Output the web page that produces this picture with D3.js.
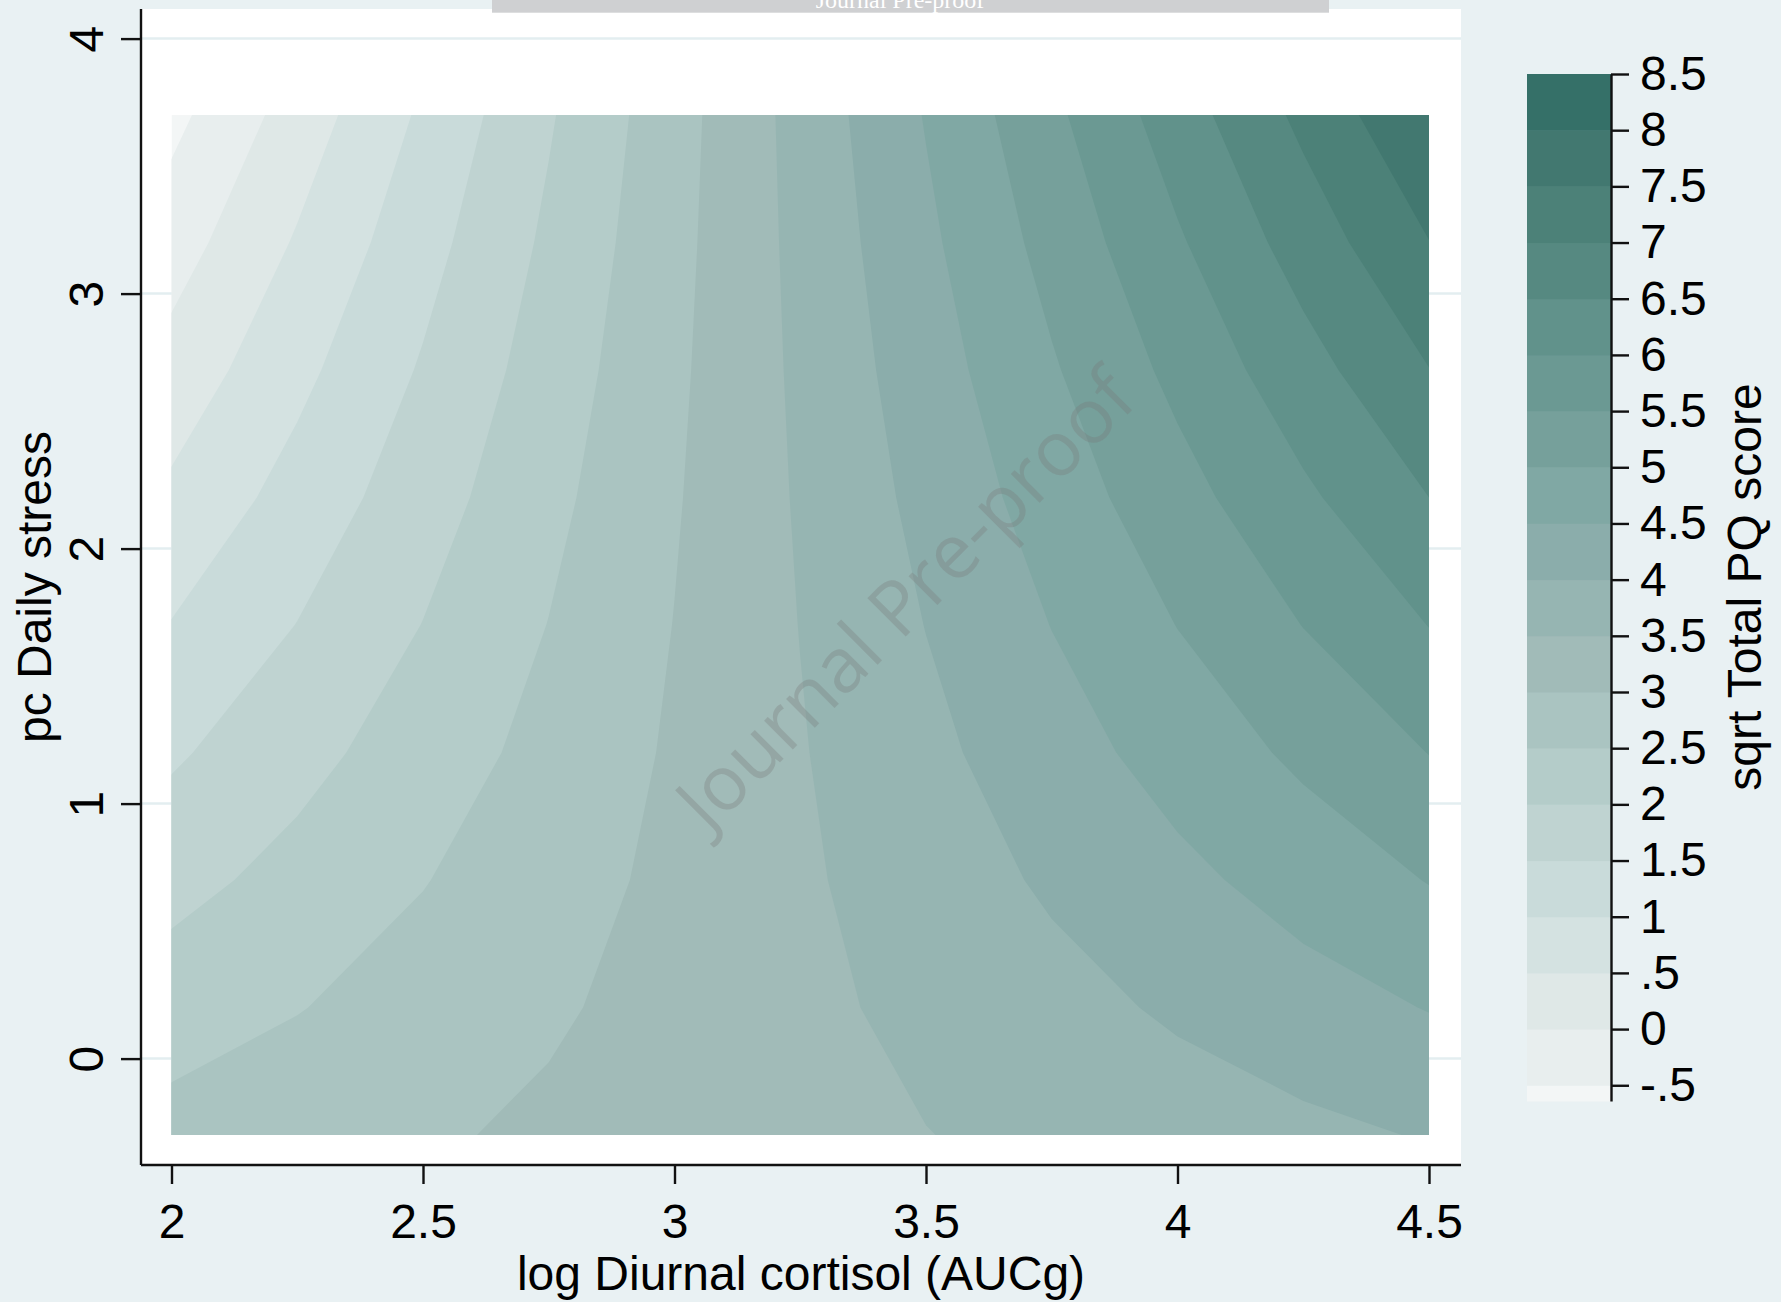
<!DOCTYPE html>
<html>
<head>
<meta charset="utf-8">
<script src="https://cdn.jsdelivr.net/npm/d3@7"></script>
<style>
  body { margin: 0; background: #e9f1f3; }
  svg { display: block; }
  text { font-family: "Liberation Sans", Arial, sans-serif; }
</style>
</head>
<body>
<div id="chart"></div>
<script>
// grid columns: log Diurnal cortisol, grid rows: pc Daily stress
const cortisol = [2, 2.25, 2.5, 2.75, 3, 3.25, 3.5, 3.75, 4, 4.25, 4.5];
const stress = [-0.3, 0.2, 0.7, 1.2, 1.7, 2.2, 2.7, 3.2, 3.7];

// sqrt Total PQ score, one row per stress value (bottom row first)
const pqScore = [
  [2.67, 2.81, 2.94, 3.08, 3.21, 3.35, 3.49, 3.62, 3.76, 3.89, 4.03],
  [2.26, 2.48, 2.71, 2.94, 3.16, 3.39, 3.62, 3.84, 4.07, 4.30, 4.52],
  [1.84, 2.16, 2.48, 2.80, 3.11, 3.43, 3.75, 4.07, 4.38, 4.70, 5.02],
  [1.43, 1.84, 2.25, 2.65, 3.06, 3.47, 3.88, 4.29, 4.70, 5.10, 5.51],
  [1.02, 1.51, 2.01, 2.51, 3.01, 3.51, 4.01, 4.51, 5.01, 5.51, 6.01],
  [0.60, 1.19, 1.78, 2.37, 2.96, 3.55, 4.14, 4.73, 5.32, 5.91, 6.50],
  [0.19, 0.87, 1.55, 2.23, 2.91, 3.59, 4.27, 4.95, 5.63, 6.31, 6.99],
  [-0.23, 0.55, 1.32, 2.09, 2.86, 3.63, 4.40, 5.17, 5.94, 6.72, 7.49],
  [-0.64, 0.22, 1.08, 1.95, 2.81, 3.67, 4.53, 5.39, 6.26, 7.12, 7.98],
];

// contour cut points and their colorbar labels
const cuts = [-0.5, 0, 0.5, 1, 1.5, 2, 2.5, 3, 3.5, 4, 4.5, 5, 5.5, 6, 6.5, 7, 7.5, 8, 8.5];
const cutLabels = ['-.5', '0', '.5', '1', '1.5', '2', '2.5', '3', '3.5', '4', '4.5', '5', '5.5', '6', '6.5', '7', '7.5', '8', '8.5'];

const xTicks = [2, 2.5, 3, 3.5, 4, 4.5];
const xTickLabels = ['2', '2.5', '3', '3.5', '4', '4.5'];
const yTicks = [0, 1, 2, 3, 4];
const yTickLabels = ['0', '1', '2', '3', '4'];

// band fills, lightest (below -.5) to darkest (8 to 8.5)
const bandColors = [
  '#f3f6f6', '#e8eeee', '#dfe8e7', '#d4e2e1', '#c9dbda', '#bfd3d1', '#b4ccc9',
  '#aac4c1', '#a1bbb8', '#96b5b2', '#8badab', '#80a8a4', '#76a09b', '#6b9993',
  '#61928b', '#568981', '#4c8178', '#427870', '#357068',
];

const frame = {
  left: 141, right: 1461, top: 9, bottom: 1165,
};

const svg = d3.select('#chart').append('svg')
  .attr('width', 1781)
  .attr('height', 1302);

svg.append('rect')
  .attr('width', 1781)
  .attr('height', 1302)
  .attr('fill', '#e9f1f3');

// plot region
svg.append('rect')
  .attr('x', frame.left)
  .attr('y', frame.top)
  .attr('width', frame.right - frame.left)
  .attr('height', frame.bottom - frame.top)
  .attr('fill', '#fff');

const x = d3.scaleLinear().domain([2, 4.5]).range([171.5, 1429]);
const y = d3.scaleLinear().domain([0, 4]).range([1058.6, 38.6]);

// grid lines
svg.append('g').selectAll('line')
  .data(yTicks)
  .enter()
  .append('line')
  .attr('x1', frame.left)
  .attr('x2', frame.right)
  .attr('y1', (d) => y(d))
  .attr('y2', (d) => y(d))
  .attr('stroke', '#e3eef0')
  .attr('stroke-width', 2.5);

// contour bands
const nx = cortisol.length;
const ny = stress.length;
const values = pqScore.flat();
const zMin = d3.min(values);

const gx = d3.scaleLinear().domain([0.5, nx - 0.5]).range([x(cortisol[0]), x(cortisol[nx - 1])]);
const gy = d3.scaleLinear().domain([0.5, ny - 0.5]).range([y(stress[0]), y(stress[ny - 1])]);
const gridPath = d3.geoPath(d3.geoTransform({
  point(px, py) { this.stream.point(gx(px), gy(py)); },
}));

svg.append('clipPath')
  .attr('id', 'clip')
  .append('rect')
  .attr('x', x(cortisol[0]))
  .attr('y', y(stress[ny - 1]))
  .attr('width', x(cortisol[nx - 1]) - x(cortisol[0]))
  .attr('height', y(stress[0]) - y(stress[ny - 1]));

const bands = svg.append('g').attr('clip-path', 'url(#clip)');

bands.append('rect')
  .attr('x', x(cortisol[0]))
  .attr('y', y(stress[ny - 1]))
  .attr('width', x(cortisol[nx - 1]) - x(cortisol[0]))
  .attr('height', y(stress[0]) - y(stress[ny - 1]))
  .attr('fill', bandColors[0]);

const contours = d3.contours()
  .size([nx, ny])
  .thresholds(cuts.slice(0, cuts.length - 1))(values);

bands.selectAll('path')
  .data(contours)
  .enter()
  .append('path')
  .attr('d', gridPath)
  .attr('fill', (d, i) => bandColors[i + 1]);

// watermark
svg.append('text')
  .attr('transform', 'translate(908,602) rotate(-45)')
  .attr('text-anchor', 'middle')
  .attr('dy', '0.3em')
  .style('font-family', '"Open Sans", sans-serif')
  .style('font-size', '76px')
  .attr('fill', 'rgb(118,120,120)')
  .attr('fill-opacity', 0.3)
  .text('Journal Pre-proof');

// axes
const xAxis = svg.append('g')
  .attr('transform', `translate(0,${frame.bottom})`)
  .call(d3.axisBottom(x).tickValues(xTicks).tickSize(19).tickSizeOuter(0)
    .tickPadding(20)
    .tickFormat((d, i) => xTickLabels[i]));

const yAxis = svg.append('g')
  .attr('transform', `translate(${frame.left},0)`)
  .call(d3.axisLeft(y).tickValues(yTicks).tickSize(20).tickSizeOuter(0)
    .tickFormat((d, i) => yTickLabels[i]));

[xAxis, yAxis].forEach((g) => {
  g.select('.domain').remove();
  g.selectAll('.tick line').attr('stroke', '#111').attr('stroke-width', 2.4);
  g.selectAll('.tick text')
    .attr('fill', '#000')
    .style('font-size', '48px')
    .style('font-family', '"Liberation Sans", Arial, sans-serif');
});

yAxis.selectAll('.tick text')
  .attr('transform', 'rotate(-90)')
  .attr('x', 0)
  .attr('y', -38)
  .attr('dy', 0)
  .attr('text-anchor', 'middle');

svg.append('line')
  .attr('x1', frame.left)
  .attr('x2', frame.right)
  .attr('y1', frame.bottom)
  .attr('y2', frame.bottom)
  .attr('stroke', '#111')
  .attr('stroke-width', 2.4);

svg.append('line')
  .attr('x1', frame.left)
  .attr('x2', frame.left)
  .attr('y1', frame.top)
  .attr('y2', frame.bottom)
  .attr('stroke', '#111')
  .attr('stroke-width', 2.4);

// axis titles
svg.append('text')
  .attr('x', (frame.left + frame.right) / 2)
  .attr('y', 1290)
  .attr('text-anchor', 'middle')
  .style('font-size', '48px')
  .text('log Diurnal cortisol (AUCg)');

svg.append('text')
  .attr('transform', `translate(51,${(frame.top + frame.bottom) / 2}) rotate(-90)`)
  .attr('text-anchor', 'middle')
  .style('font-size', '48px')
  .text('pc Daily stress');

// colorbar
const cb = d3.scaleLinear().domain([zMin, cuts[cuts.length - 1]]).range([1101, 74]);
const cbLeft = 1527;
const cbRight = 1611;
const bandRanges = bandColors.map((c, i) => ({
  lo: i === 0 ? zMin : cuts[i - 1],
  hi: cuts[i],
  color: c,
}));

svg.append('g').selectAll('rect')
  .data(bandRanges)
  .enter()
  .append('rect')
  .attr('x', cbLeft)
  .attr('width', cbRight - cbLeft)
  .attr('y', (d) => cb(d.hi))
  .attr('height', (d) => cb(d.lo) - cb(d.hi) + 0.5)
  .attr('fill', (d) => d.color);

const cbAxis = svg.append('g')
  .attr('transform', `translate(${cbRight},0)`)
  .call(d3.axisRight(cb).tickValues(cuts).tickSize(18).tickSizeOuter(0)
    .tickPadding(11)
    .tickFormat((d, i) => cutLabels[i]));

cbAxis.select('.domain').attr('stroke', '#111').attr('stroke-width', 2.4);
cbAxis.selectAll('.tick line').attr('stroke', '#111').attr('stroke-width', 2.4);
cbAxis.selectAll('.tick text')
  .attr('fill', '#000')
  .style('font-size', '48px')
  .style('font-family', '"Liberation Sans", Arial, sans-serif');

svg.append('text')
  .attr('transform', 'translate(1761,587) rotate(-90)')
  .attr('text-anchor', 'middle')
  .style('font-size', '48px')
  .text('sqrt Total PQ score');

// journal banner
svg.append('rect')
  .attr('x', 492)
  .attr('y', 0)
  .attr('width', 837)
  .attr('height', 12.7)
  .attr('fill', '#cfd0d2');

svg.append('text')
  .attr('x', 900)
  .attr('y', 8)
  .attr('text-anchor', 'middle')
  .style('font-family', '"Liberation Serif", "Times New Roman", serif')
  .style('font-size', '24px')
  .attr('fill', '#fff')
  .text('Journal Pre-proof');
</script>
</body>
</html>
